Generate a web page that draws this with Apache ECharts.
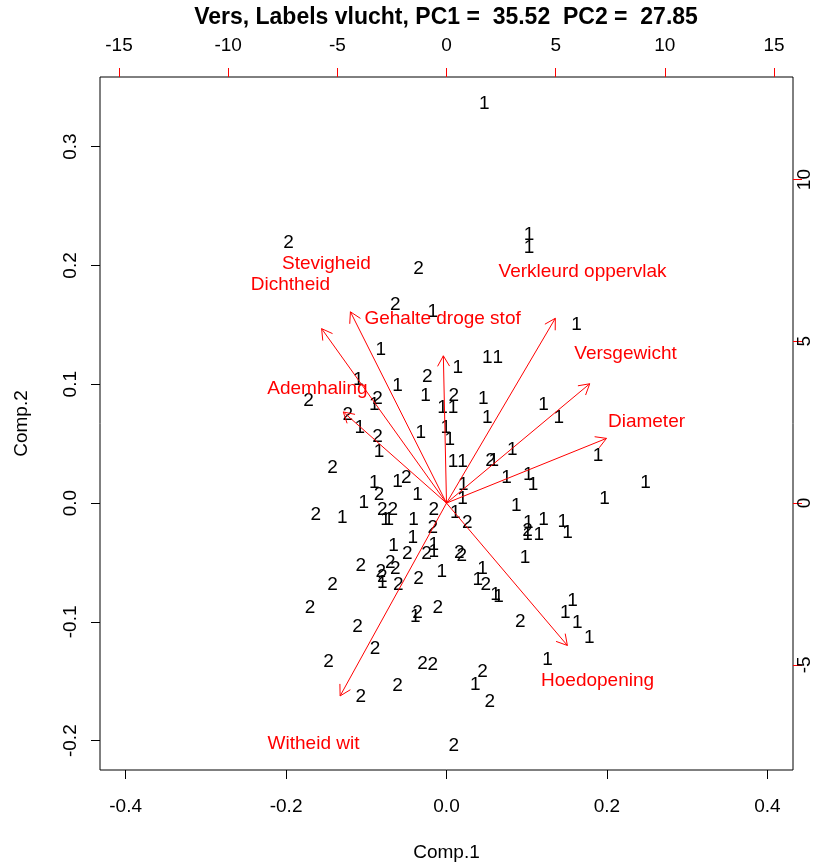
<!DOCTYPE html>
<html>
<head>
<meta charset="utf-8">
<script src="https://cdn.jsdelivr.net/npm/echarts@6/dist/echarts.min.js"></script>
<style>html,body{margin:0;padding:0;background:#fff}#c{width:839px;height:863px}</style>
</head>
<body>
<div id="c"></div>
<script>
const titleText = 'Vers, Labels vlucht, PC1 =  35.52  PC2 =  27.85';
const xLabel = 'Comp.1';
const yLabel = 'Comp.2';
const xTicks = [-0.4, -0.2, 0.0, 0.2, 0.4];
const yTicks = [-0.2, -0.1, 0.0, 0.1, 0.2, 0.3];
const topTicks = [-15, -10, -5, 0, 5, 10, 15];
const rightTicks = [-5, 0, 5, 10];

// scores of observations, label "1"
const group1 = [
[0.047,0.336],[0.103,0.226],[0.103,0.215],[-0.017,0.161],[0.162,0.150],[-0.082,0.129],
[0.014,0.114],[0.051,0.122],[0.064,0.122],[-0.110,0.104],[-0.061,0.099],[-0.026,0.090],
[0.046,0.088],[-0.090,0.083],[-0.005,0.080],[0.008,0.080],[0.051,0.072],[0.121,0.083],
[0.140,0.072],[-0.108,0.063],[-0.032,0.059],[-0.001,0.063],[0.004,0.053],[-0.084,0.043],
[0.008,0.035],[0.020,0.035],[0.059,0.036],[0.082,0.045],[0.189,0.040],[0.075,0.021],
[0.102,0.024],[0.108,0.015],[0.021,0.015],[0.020,0.004],[0.011,-0.008],[0.248,0.017],
[0.197,0.004],[0.087,-0.002],[0.102,-0.017],[0.121,-0.014],[0.101,-0.027],[0.115,-0.027],
[0.145,-0.016],[0.151,-0.025],[0.098,-0.046],[-0.016,-0.035],[-0.006,-0.058],[0.045,-0.055],
[0.039,-0.065],[0.061,-0.077],[0.065,-0.079],[0.157,-0.082],[0.148,-0.092],[0.163,-0.101],
[0.178,-0.113],[0.126,-0.132],[0.036,-0.153],[-0.090,0.017],[-0.061,0.018],[-0.036,0.007],
[-0.103,0.000],[-0.130,-0.012],[-0.076,-0.014],[-0.072,-0.014],[-0.041,-0.014],[-0.042,-0.029],
[-0.066,-0.036],[-0.016,-0.041],[-0.080,-0.067],[-0.039,-0.096]
];
// scores of observations, label "2"
const group2 = [
[-0.197,0.219],[-0.035,0.197],[-0.064,0.167],[-0.024,0.106],[-0.172,0.086],[-0.086,0.088],
[0.009,0.090],[-0.123,0.074],[-0.086,0.056],[0.055,0.036],[-0.142,0.030],[-0.050,0.021],
[-0.084,0.007],[-0.163,-0.010],[-0.080,-0.006],[-0.067,-0.006],[-0.016,-0.006],[0.026,-0.017],
[-0.017,-0.021],[0.101,-0.023],[0.016,-0.042],[0.019,-0.044],[-0.049,-0.043],[-0.025,-0.043],
[-0.107,-0.053],[-0.070,-0.050],[-0.082,-0.058],[-0.064,-0.055],[-0.080,-0.062],[-0.060,-0.069],
[-0.035,-0.064],[-0.142,-0.069],[0.049,-0.069],[-0.170,-0.088],[-0.036,-0.092],[-0.011,-0.088],
[0.092,-0.100],[-0.111,-0.104],[-0.089,-0.123],[-0.147,-0.134],[-0.030,-0.135],[-0.017,-0.136],
[-0.061,-0.154],[-0.107,-0.163],[0.045,-0.142],[0.054,-0.167],[0.009,-0.204]
];

// variable loadings (top / right axes)
const varNames = ['Verkleurd oppervlak','Versgewicht','Diameter','Hoedopening','Witheid wit','Ademhaling','Dichtheid','Stevigheid','Gehalte droge stof'];
const varX = [6.23, 8.20, 9.16, 6.92, -6.09, -5.91, -7.15, -5.50, -0.18];
const varY = [7.14, 4.61, 2.50, -5.50, -7.45, 3.52, 6.74, 7.39, 5.69];

const FONT = '"Liberation Sans", Arial, sans-serif';
const FS = 19;
const arrowScale = 0.8;

function textSeries(points, label) {
  return {
    type: 'custom', xAxisIndex: 0, yAxisIndex: 0, clip: false,
    data: points,
    renderItem: function (params, api) {
      const p = api.coord([api.value(0), api.value(1)]);
      return {
        type: 'text', x: p[0], y: p[1],
        style: { text: label, fill: '#000', font: FS + 'px ' + FONT, align: 'center', verticalAlign: 'middle' }
      };
    }
  };
}

const arrowData = varNames.map((n, i) => [varX[i], varY[i], n]);

const chart = echarts.init(document.getElementById('c'), null, { renderer: 'canvas' });
chart.setOption({
  backgroundColor: '#fff',
  animation: false,
  graphic: [{
    type: 'text', x: 446, y: 18,
    style: { text: titleText, fill: '#000', font: 'bold 23px ' + FONT, align: 'center', verticalAlign: 'middle' }
  }],
  grid: { left: 100, right: 46, top: 77, bottom: 93, containLabel: false, outerBoundsMode: 'none',
    show: true, borderColor: '#000', borderWidth: 1, backgroundColor: 'transparent' },
  xAxis: [
    {
      type: 'value', position: 'bottom', min: -0.432, max: 0.432,
      name: xLabel, nameLocation: 'middle', nameGap: 73,
      nameTextStyle: { fontFamily: FONT, fontSize: FS, color: '#000' },
      axisLine: { show: false, onZero: false }, splitLine: { show: false },
      axisTick: { show: true, length: 9, lineStyle: { color: '#000' }, customValues: xTicks },
      axisLabel: { show: true, margin: 27, fontFamily: FONT, fontSize: FS, color: '#000', customValues: xTicks,
        formatter: v => (Math.abs(v) < 1e-9 ? 0 : v).toFixed(1) }
    },
    {
      type: 'value', position: 'top', min: -15.87, max: 15.87,
      axisLine: { show: false, onZero: false }, splitLine: { show: false },
      axisTick: { show: true, length: 9, lineStyle: { color: '#ff0000' }, customValues: topTicks },
      axisLabel: { show: true, margin: 22, fontFamily: FONT, fontSize: FS, color: '#000', customValues: topTicks,
        formatter: v => String(Math.round(v)) }
    }
  ],
  yAxis: [
    {
      type: 'value', position: 'left', min: -0.2247, max: 0.3586,
      name: yLabel, nameLocation: 'middle', nameGap: 69, nameRotate: 90,
      nameTextStyle: { fontFamily: FONT, fontSize: FS, color: '#000' },
      axisLine: { show: false, onZero: false }, splitLine: { show: false },
      axisTick: { show: true, length: 9, lineStyle: { color: '#000' }, customValues: yTicks },
      axisLabel: { show: true, margin: 20, rotate: 90, fontFamily: FONT, fontSize: FS, color: '#000', customValues: yTicks,
        formatter: v => (Math.abs(v) < 1e-9 ? 0 : v).toFixed(1) }
    },
    {
      type: 'value', position: 'right', min: -8.25, max: 13.17,
      axisLine: { show: false, onZero: false }, splitLine: { show: false },
      axisTick: { show: true, length: 9, lineStyle: { color: '#ff0000' }, customValues: rightTicks },
      axisLabel: { show: true, margin: 2, rotate: 90, fontFamily: FONT, fontSize: FS, color: '#000', customValues: rightTicks,
        formatter: v => String(Math.round(v)) }
    }
  ],
  series: [
    textSeries(group1, '1'),
    textSeries(group2, '2'),
    {
      type: 'custom', xAxisIndex: 1, yAxisIndex: 1, clip: false,
      data: arrowData,
      renderItem: function (params, api) {
        const lx = api.value(0), ly = api.value(1);
        const o = api.coord([0, 0]);
        const t = api.coord([lx * arrowScale, ly * arrowScale]);
        const lp = api.coord([lx, ly]);
        const ang = Math.atan2(t[1] - o[1], t[0] - o[0]);
        const hl = 12, ha = Math.PI / 6;
        const h1 = [t[0] - hl * Math.cos(ang - ha), t[1] - hl * Math.sin(ang - ha)];
        const h2 = [t[0] - hl * Math.cos(ang + ha), t[1] - hl * Math.sin(ang + ha)];
        const ls = { stroke: '#ff0000', lineWidth: 1 };
        return {
          type: 'group',
          children: [
            { type: 'line', shape: { x1: o[0], y1: o[1], x2: t[0], y2: t[1] }, style: ls },
            { type: 'polyline', shape: { points: [h1, t, h2] }, style: Object.assign({ fill: null }, ls) },
            { type: 'text', x: lp[0], y: lp[1],
              style: { text: arrowData[params.dataIndex][2], fill: '#ff0000', font: FS + 'px ' + FONT, align: 'center', verticalAlign: 'middle' } }
          ]
        };
      }
    }
  ]
});
</script>
</body>
</html>
